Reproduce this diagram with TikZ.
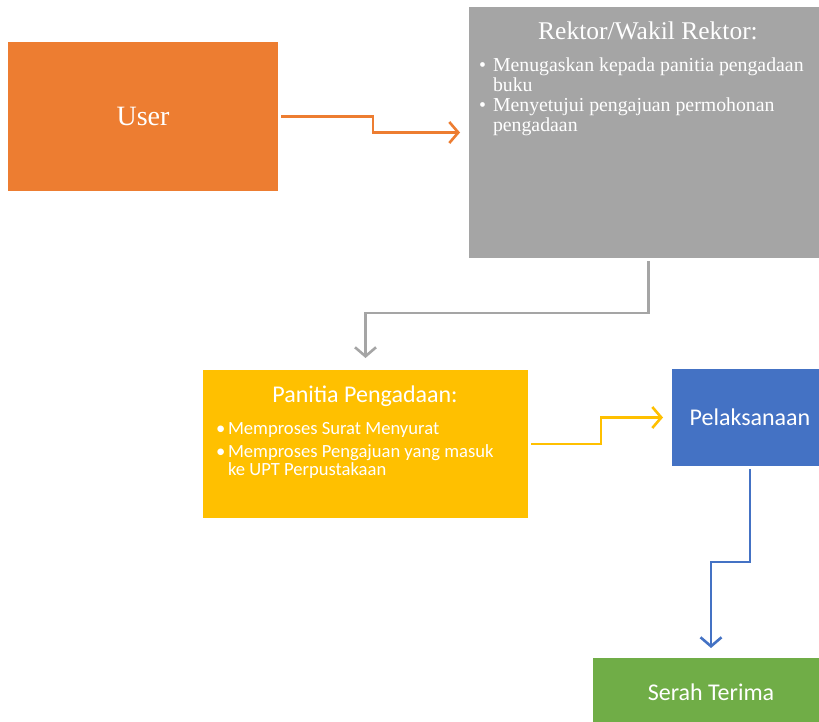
\documentclass[tikz,border=0pt]{standalone}
\usepackage{fontspec}
\setmainfont{Liberation Serif}
\setsansfont{Carlito}
\usetikzlibrary{arrows.meta}
\definecolor{userorange}{HTML}{ED7D31}
\definecolor{rektorgray}{HTML}{A5A5A5}
\definecolor{panitiagold}{HTML}{FFC000}
\definecolor{pelakblue}{HTML}{4472C4}
\definecolor{serahgreen}{HTML}{70AD47}

\begin{document}
\begin{tikzpicture}[x=1pt,y=-1pt]
\tikzstyle{every node}=[inner sep=0pt,outer sep=0pt,text=white];
\tikzstyle{box}=[anchor=north west,shape=rectangle];
\tikzstyle{flow}=[line width=2.6pt,-{Straight Barb[length=9pt,width=21pt]},shorten <=3pt];
\tikzstyle{serifline}=[anchor=base west,align=left,font=\fontsize{19.8}{19.5}\selectfont];
\tikzstyle{sansline}=[anchor=base west,align=left,font=\sffamily\fontsize{18.6}{18.5}\selectfont];
\clip (0,0) rectangle (819,722);
\fill[white] (0,0) rectangle (819,722);
% boxes
\node[box,fill=userorange,minimum width=270pt,minimum height=149pt,
  font=\fontsize{28}{30}\selectfont] (user) at (8,42) {User};
\node[box,fill=rektorgray,minimum width=359pt,minimum height=251pt] (rektor) at (469,7) {};
\node[box,fill=panitiagold,minimum width=325pt,minimum height=148pt] (panitia) at (203,370) {};
\node[box,fill=pelakblue,minimum width=156pt,minimum height=97pt,
  font=\sffamily\fontsize{24}{28}\selectfont] (pelak) at (672,369) {Pelaksanaan};
\node[box,fill=serahgreen,minimum width=236pt,minimum height=68pt,
  font=\sffamily\fontsize{24}{28}\selectfont] (serah) at (593,658) {Serah Terima};
% rektor text (base = last line)
\node[anchor=base,font=\fontsize{25.5}{28}\selectfont] (rektortitle) at (648,40) {Rektor/Wakil Rektor:};
\node[serifline] (rektorbulA) at (479,72) {\textbullet};
\node[serifline] (rektorA) at (493,91.5) {Menugaskan kepada panitia pengadaan\\buku};
\node[serifline] (rektorbulB) at (479,112) {\textbullet};
\node[serifline] (rektorB) at (493,131.5) {Menyetujui pengajuan permohonan\\pengadaan};
% panitia text
\node[anchor=base,font=\sffamily\fontsize{24}{28}\selectfont] (panitiatitle) at (365,402) {Panitia Pengadaan:};
\node[sansline] (panitiabulA) at (216,434) {\textbullet};
\node[sansline] (panitiaA) at (228,434) {Memproses Surat Menyurat};
\node[sansline] (panitiabulB) at (216,457) {\textbullet};
\node[sansline] (panitiaB) at (228,475.5) {Memproses Pengajuan yang masuk\\ke UPT Perpustakaan};
% connectors
\draw[flow,draw=userorange,shorten >=9pt] (user.east) -- ++(95,0) |- (rektor.west);
\draw[flow,draw=rektorgray,shorten >=12pt] (rektor.south) -- ++(0,55) -| (panitia.north);
\draw[flow,draw=panitiagold,shorten >=9pt] (panitia.east) -- ++(73,0) |- (pelak.west);
\draw[flow,draw=pelakblue,shorten >=10pt] (pelak.south) -- ++(0,96) -| (serah.north);
\end{tikzpicture}
\end{document}
